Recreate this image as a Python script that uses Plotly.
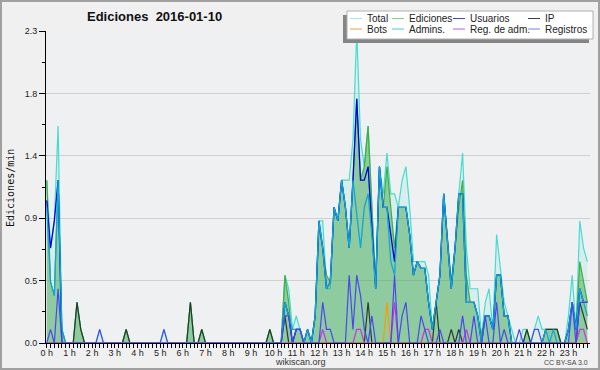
import plotly.graph_objects as go

# ---- data (10-minute bins, 144 per day; values in ediciones/min) ----
hour_labels = [f"{h} h" for h in range(24)]
bins = list(range(144))

total = [
    1.2, 0.7, 0.9, 1.6, 0.1, 0,
    0, 0, 0.3, 0.1, 0, 0,
    0, 0, 0.1, 0, 0, 0,
    0, 0, 0, 0.1, 0, 0,
    0, 0, 0, 0, 0, 0,
    0, 0.1, 0, 0, 0, 0,
    0, 0, 0.3, 0, 0, 0.1,
    0, 0, 0, 0, 0, 0,
    0, 0, 0, 0, 0, 0,
    0, 0, 0, 0, 0, 0.1,
    0, 0, 0, 0.5, 0.4, 0.1,
    0.2, 0.1, 0, 0.1, 0, 0.2,
    0.9, 0.9, 0.4, 0.4, 1.0, 0.9,
    1.2, 1.2, 1.2, 1.5, 2.3, 1.5,
    1.3, 1.6, 1.0, 0.45, 1.3, 1.1,
    1.4, 1.1, 1.1, 1.0, 1.2, 1.3,
    1.0, 0.6, 0.6, 0.6, 0.6, 0.5,
    0.1, 0.3, 0.5, 1.1, 0.75, 0.4,
    0.7, 1.1, 1.4, 0.7, 0.4, 0.4,
    0.4, 0.05, 0.3, 0.4, 0.1, 0.8,
    0.55, 0.3, 0.2, 0.1, 0, 0,
    0.1, 0.1, 0, 0.1, 0.2, 0.1,
    0.1, 0.1, 0.1, 0.1, 0, 0,
    0.2, 0.5, 0.1, 0.9, 0.7, 0.6,
]

ediciones = [
    1.2, 0.45, 0.35, 1.2, 0.1, 0,
    0, 0, 0.3, 0.1, 0, 0,
    0, 0, 0, 0, 0, 0,
    0, 0, 0, 0.1, 0, 0,
    0, 0, 0, 0, 0, 0,
    0, 0, 0, 0, 0, 0,
    0, 0, 0.3, 0, 0, 0.1,
    0, 0, 0, 0, 0, 0,
    0, 0, 0, 0, 0, 0,
    0, 0, 0, 0, 0, 0.1,
    0, 0, 0, 0.5, 0.3, 0,
    0.1, 0.1, 0, 0.1, 0, 0.2,
    0.85, 0.7, 0.5, 0.45, 1.0, 0.9,
    1.2, 1.0, 0.7, 1.2, 1.8, 1.2,
    1.3, 1.6, 1.0, 0.4, 1.3, 1.0,
    1.3, 1.0, 0.7, 1.0, 1.0, 1.0,
    0.8, 0.5, 0.6, 0.55, 0.55, 0.3,
    0.1, 0.3, 0.5, 1.1, 0.75, 0.45,
    0.7, 1.0, 1.2, 0.5, 0.3, 0.3,
    0.2, 0.05, 0.2, 0.2, 0.1, 0.5,
    0.5, 0.2, 0.2, 0, 0, 0,
    0, 0.1, 0, 0, 0, 0,
    0.1, 0.1, 0.1, 0.1, 0, 0,
    0.1, 0.3, 0.1, 0.6, 0.45, 0.3,
]

usuarios = [
    1.05, 0.7, 0.9, 1.2, 0, 0,
    0, 0, 0, 0, 0, 0,
    0, 0, 0, 0, 0, 0,
    0, 0, 0, 0, 0, 0,
    0, 0, 0, 0, 0, 0,
    0, 0, 0, 0, 0, 0,
    0, 0, 0, 0, 0, 0,
    0, 0, 0, 0, 0, 0,
    0, 0, 0, 0, 0, 0,
    0, 0, 0, 0, 0, 0,
    0, 0, 0, 0.3, 0.2, 0,
    0.1, 0.1, 0, 0.1, 0, 0.2,
    0.9, 0.7, 0.4, 0.45, 1.0, 0.9,
    1.2, 1.0, 0.7, 1.2, 1.8, 1.2,
    1.2, 1.3, 0.85, 0.4, 1.3, 1.0,
    1.0, 0.8, 0.6, 1.0, 1.0, 1.0,
    0.8, 0.5, 0.6, 0.55, 0.55, 0.3,
    0.1, 0.3, 0.5, 1.1, 0.75, 0.4,
    0.7, 1.1, 1.1, 0.3, 0.3, 0.3,
    0.2, 0, 0.2, 0.2, 0.1, 0.5,
    0.5, 0.2, 0.2, 0, 0, 0,
    0, 0, 0, 0, 0, 0,
    0, 0, 0, 0, 0, 0,
    0.1, 0.3, 0.1, 0.4, 0.3, 0.3,
]

ip = [0.0] * 144
for b, v in [(8, 0.3), (9, 0.1), (21, 0.1), (38, 0.3), (41, 0.1), (59, 0.1),
             (63, 0.2), (85, 0.3), (103, 0.3), (107, 0.1), (109, 0.1),
             (127, 0.1), (132, 0.1), (133, 0.1), (134, 0.1), (135, 0.1),
             (141, 0.3), (142, 0.2), (143, 0.1)]:
    ip[b] = v

bots = [0.0] * 144
bots[90] = 0.3

admins = [
    1.0, 0.45, 0.35, 1.2, 0.1, 0,
    0, 0, 0, 0, 0, 0,
    0, 0, 0, 0, 0, 0,
    0, 0, 0, 0, 0, 0,
    0, 0, 0, 0, 0, 0,
    0, 0, 0, 0, 0, 0,
    0, 0, 0, 0, 0, 0,
    0, 0, 0, 0, 0, 0,
    0, 0, 0, 0, 0, 0,
    0, 0, 0, 0, 0, 0,
    0, 0, 0, 0.3, 0.2, 0.1,
    0.1, 0.1, 0, 0.1, 0, 0.2,
    0.9, 0.7, 0.4, 0.45, 1.0, 0.9,
    1.2, 1.0, 0.7, 1.2, 0.95, 0.7,
    1.0, 1.1, 0.8, 0.4, 1.3, 1.0,
    1.0, 0.6, 0.5, 1.0, 1.0, 1.0,
    0.8, 0.5, 0.6, 0.55, 0.55, 0.3,
    0.1, 0.3, 0.5, 1.1, 0.75, 0.4,
    0.7, 1.1, 1.1, 0.3, 0.3, 0.3,
    0.2, 0, 0.2, 0.2, 0.1, 0.5,
    0.5, 0.2, 0.2, 0, 0, 0,
    0, 0, 0, 0, 0, 0,
    0.1, 0, 0.1, 0, 0, 0,
    0.1, 0.3, 0.1, 0.4, 0.3, 0.2,
]

reg_adm = [0.0] * 144
for b, v in [(73, 0.1), (82, 0.1), (83, 0.1), (92, 0.3), (100, 0.1),
             (101, 0.1), (111, 0.1), (141, 0.1), (142, 0.1)]:
    reg_adm[b] = v

registros = [0.0] * 144
for b, v in [(1, 0.1), (3, 0.4), (14, 0.1), (31, 0.1), (63, 0.2), (64, 0.2),
             (66, 0.1), (67, 0.1), (73, 0.3), (74, 0.1), (75, 0.1), (80, 0.5),
             (81, 0.1), (82, 0.5), (83, 0.35), (84, 0.1), (86, 0.2), (92, 0.5),
             (94, 0.2), (95, 0.3), (99, 0.2), (100, 0.1), (104, 0.1), (110, 0.2),
             (113, 0.2), (116, 0.2), (119, 0.3), (121, 0.1), (125, 0.1),
             (129, 0.1), (130, 0.1), (139, 0.3), (141, 0.3), (142, 0.3), (143, 0.3)]:
    registros[b] = v

y_tickvals = [0, 0.46, 0.92, 1.38, 1.84, 2.3]
y_ticktext = ["0.0", "0.5", "0.9", "1.4", "1.8", "2.3"]
hour_ticks = list(range(0, 144, 6))

# ---- figure ----
FONT = "Liberation Sans"
L, R, T, B = 46, 10, 31, 27
W, H = 600, 370
PW, PH = W - L - R, H - T - B


def px(x):
    return (x - L) / PW


def py(y):
    return (H - B - y) / PH


fig = go.Figure()


def add(name, y, color, width=1.0, fill=None, fillcolor=None):
    fig.add_trace(go.Scatter(
        x=bins, y=y, name=name, mode="lines",
        line=dict(color=color, width=width),
        fill=fill, fillcolor=fillcolor,
        showlegend=False, hoverinfo="skip"))


series = [
    ("Total", total, "#48dcd0", 1.2, "tozeroy", "rgba(120,225,210,0.18)", "#a8e6e4"),
    ("Ediciones", ediciones, "#3cb043", 1.2, "tozeroy", "rgba(60,165,75,0.48)", "#88cf88"),
    ("Usuarios", usuarios, "#0000dd", 1.3, None, None, "#4848e0"),
    ("IP", ip, "#2a3a2a", 1.2, None, None, "#404040"),
    ("Bots", bots, "#ff9900", 1.2, None, None, "#f0a040"),
    ("Admins.", admins, "#10a8d8", 1.3, None, None, "#48c8e0"),
    ("Reg. de adm.", reg_adm, "#cc33dd", 1.2, None, None, "#c858e0"),
    ("Registros", registros, "#4848f0", 1.2, None, None, "#8080f0"),
]

for name, y, color, w, fill, fc, _ in series:
    add(name, y, color, w, fill, fc)

fig.update_layout(
    width=W, height=H, autosize=False,
    margin=dict(l=L, r=R, t=T, b=B, pad=0),
    paper_bgcolor="#f0f0f0", plot_bgcolor="#eef0f2",
    font=dict(family=FONT, size=9, color="#222"),
)

fig.update_xaxes(
    range=[-0.2, 143.7],
    tickmode="array",
    tickvals=hour_ticks,
    ticktext=hour_labels,
    ticks="outside", ticklen=4, tickwidth=1, tickcolor="#000",
    ticklabelstandoff=-3,
    showline=True, linecolor="#000", linewidth=1,
    showgrid=False, zeroline=False,
    tickfont=dict(size=9, family=FONT, color="#222"),
    tickangle=0,
    minor=dict(tickmode="array", tickvals=bins, ticks="outside", ticklen=4,
               tickwidth=1, tickcolor="#000", showgrid=False),
)

fig.update_yaxes(
    range=[0, 2.3],
    tickmode="array", tickvals=y_tickvals, ticktext=y_ticktext,
    ticks="outside", ticklen=6, tickwidth=1, tickcolor="#000",
    showline=True, linecolor="#000", linewidth=1,
    showgrid=True, gridcolor="#cfcfcf", gridwidth=1,
    zeroline=False,
    tickfont=dict(size=9, family=FONT, color="#222"),
    minor=dict(tickmode="array", tickvals=[0.23, 0.69, 1.15, 1.61, 2.07],
               ticks="outside", ticklen=3, tickcolor="#000", showgrid=False),
)

shapes = []
annotations = []

# outer frame
shapes.append(dict(type="rect", xref="paper", yref="paper",
                   x0=px(1), x1=px(599), y0=py(369), y1=py(1),
                   line=dict(color="#a0a0a0", width=2), fillcolor="rgba(0,0,0,0)",
                   layer="above"))

# legend shadow and box
shapes.append(dict(type="rect", xref="paper", yref="paper",
                   x0=px(343), x1=px(589), y0=py(43), y1=py(15),
                   line=dict(width=0), fillcolor="#858585", layer="above"))
shapes.append(dict(type="rect", xref="paper", yref="paper",
                   x0=px(347), x1=px(593), y0=py(39), y1=py(11),
                   line=dict(color="#b0b0b0", width=1), fillcolor="#ffffff", layer="above"))

col_x = [350, 392, 453, 528]
row_y = [18.5, 29]
for k, (name, _, _, _, _, _, lcol) in enumerate(series):
    cx = col_x[k % 4]
    ry = row_y[k // 4]
    shapes.append(dict(type="line", xref="paper", yref="paper",
                       x0=px(cx), x1=px(cx + 12), y0=py(ry), y1=py(ry),
                       line=dict(color=lcol, width=1), layer="above"))
    annotations.append(dict(xref="paper", yref="paper", x=px(cx + 15), y=py(ry),
                            text=name, showarrow=False, xanchor="left", yanchor="middle",
                            font=dict(family=FONT, size=10, color="#222")))

# title
annotations.append(dict(xref="paper", yref="paper", x=px(154), y=py(17),
                        text="<b>Ediciones\u00a0 2016-01-10</b>", showarrow=False,
                        xanchor="center", yanchor="middle",
                        font=dict(family=FONT, size=13, color="#111")))
# y axis title
annotations.append(dict(xref="paper", yref="paper", x=px(10), y=py(188),
                        text="Ediciones/min", showarrow=False, textangle=-90,
                        xanchor="center", yanchor="middle",
                        font=dict(family="DejaVu Sans Mono", size=10, color="#111")))
# footer
annotations.append(dict(xref="paper", yref="paper", x=px(300), y=py(362),
                        text="wikiscan.org", showarrow=False,
                        xanchor="center", yanchor="middle",
                        font=dict(family=FONT, size=9, color="#333")))
annotations.append(dict(xref="paper", yref="paper", x=px(590), y=py(362),
                        text="CC BY-SA 3.0", showarrow=False,
                        xanchor="right", yanchor="middle",
                        font=dict(family=FONT, size=7, color="#444")))

fig.update_layout(shapes=shapes, annotations=annotations)

fig.write_html(
    "out.html",
    config={"displayModeBar": False},
    post_script="document.body.style.margin='0';document.body.style.padding='0';",
)
